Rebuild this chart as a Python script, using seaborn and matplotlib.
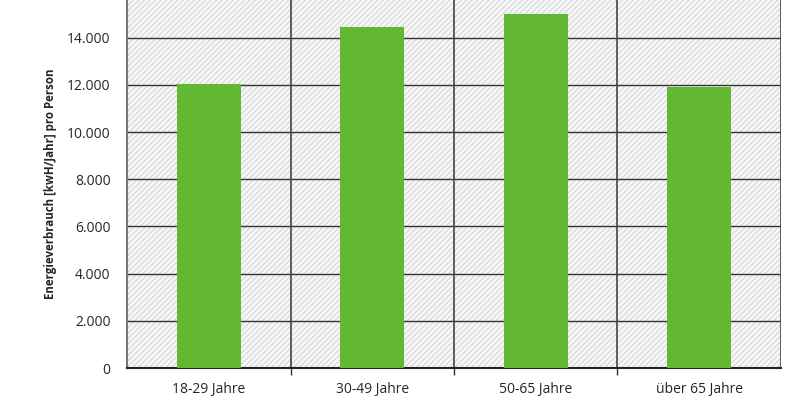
import numpy as np
import pandas as pd
import matplotlib
matplotlib.use('Agg')
import matplotlib.pyplot as plt
import seaborn as sns
from matplotlib.ticker import FuncFormatter, FixedLocator

# data
altersgruppen = ['18-29 Jahre', '30-49 Jahre', '50-65 Jahre', 'über 65 Jahre']
verbrauch = [12050, 14470, 15020, 11900]

df = pd.DataFrame({'Alter': altersgruppen, 'Verbrauch': verbrauch})

sns.set_style('white')
plt.rcParams['font.family'] = ['Open Sans', 'DejaVu Sans']
plt.rcParams['hatch.linewidth'] = 0.6

fig = plt.figure(figsize=(8, 4), dpi=100)
ax = fig.add_axes([0.159, 0.08, 0.817, 0.92])

# hatched background
ax.patch.set_facecolor('#f7f7f7')
ax.patch.set_edgecolor('#cccccc')
ax.patch.set_linewidth(0)
ax.patch.set_hatch('//////')

sns.barplot(data=df, x='Alter', y='Verbrauch', color='#62b832', width=0.39,
            saturation=1, linewidth=0, ax=ax, zorder=3)

ax.set_ylim(0, 15600)
ax.set_xlim(-0.5, 3.5)
ax.set_yticks(np.arange(0, 16000, 2000))
ax.yaxis.set_major_formatter(FuncFormatter(lambda v, p: f'{int(v):,}'.replace(',', '.')))

# grid lines
for v in range(2000, 16000, 2000):
    ax.axhline(v, color='#333333', linewidth=1.0, zorder=2)
for b in [0.5, 1.5, 2.5, 3.5]:
    ax.axvline(b, color='#444444', linewidth=1.2, zorder=2)

# boundary ticks on x axis
ax.xaxis.set_minor_locator(FixedLocator([0.5, 1.5, 2.5]))
ax.tick_params(axis='x', which='minor', length=5, width=1, color='#333333', bottom=True)
ax.tick_params(axis='x', which='major', length=0, labelsize=10, pad=10)
ax.tick_params(axis='y', length=0, labelsize=10, pad=12)

for s in ['top', 'right']:
    ax.spines[s].set_visible(False)
ax.spines['left'].set_color('#777777')
ax.spines['left'].set_linewidth(1.5)
ax.spines['bottom'].set_color('#222222')
ax.spines['bottom'].set_linewidth(1.5)

ax.set_xlabel('')
ax.set_ylabel('Energieverbrauch [kwH/Jahr] pro Person', fontsize=8.3, fontweight='bold', labelpad=7)

plt.savefig('out.png', dpi=100)
